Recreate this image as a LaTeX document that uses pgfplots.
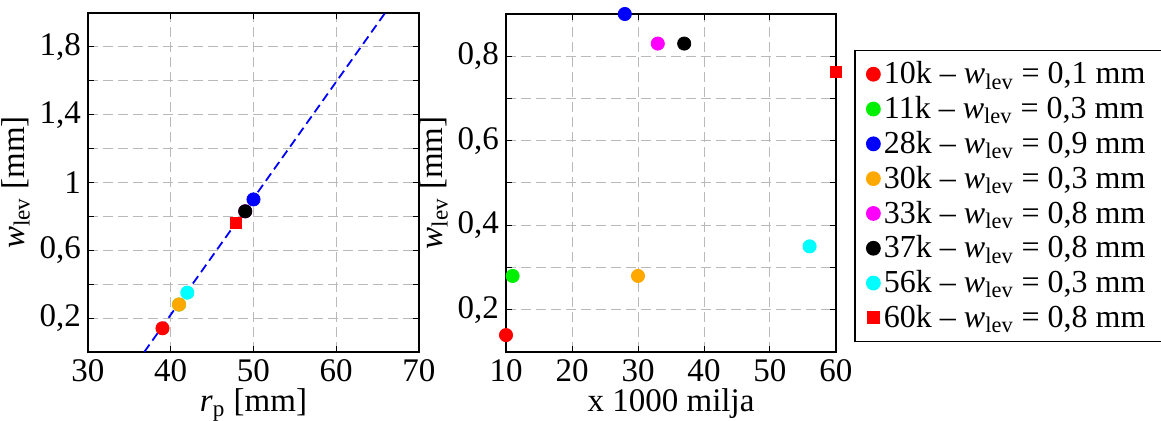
\documentclass[border=0pt]{standalone}
\usepackage{fontspec}
\setmainfont{Liberation Serif}
\usepackage{pgfplots}
\pgfplotsset{compat=1.18}
\definecolor{cred}{RGB}{255,0,0}
\definecolor{cgreen}{RGB}{0,240,0}
\definecolor{cblue}{RGB}{0,0,255}
\definecolor{corange}{RGB}{255,168,0}
\definecolor{cmagenta}{RGB}{255,0,255}
\definecolor{ccyan}{RGB}{0,255,255}
\definecolor{gridgray}{RGB}{185,185,185}
\newcommand{\wlev}{\textit{w}\textsubscript{lev}}
\pgfplotsset{
  mystyle/.style={
    scale only axis, clip=false,
    axis line style={line width=0.8pt},
    grid=both,
    grid style={gridgray, dash pattern=on 5pt off 2.5pt, line width=0.5pt},
    minor grid style={gridgray, dash pattern=on 5pt off 2.5pt, line width=0.5pt},
    major grid style={gridgray, dash pattern=on 5pt off 2.5pt, line width=0.5pt},
    tick align=inside, major tick length=3pt, minor tick length=3pt,
    every tick/.style={black, line width=0.5pt},
    ticklabel style={font=\fontsize{16.5}{19}\selectfont},
    label style={font=\fontsize{16.5}{19}\selectfont},
    xlabel style={inner ysep=1pt, yshift=1pt},
    ylabel style={yshift=-2pt},
    /pgf/number format/assume math mode=true,
    /pgf/number format/use comma,
    /pgf/number format/1000 sep={},
  },
  mk/.style={only marks, mark=*, mark size=3.3pt, color=#1},
  sq/.style={only marks, mark=square*, mark size=2.8pt, color=#1},
}
\begin{document}
\begin{tikzpicture}
\useasboundingbox (0,0) rectangle (580.5pt,210.5pt);
% left axis
\begin{axis}[mystyle,
  at={(44pt,34.5pt)}, anchor=south west,
  width=165.5pt, height=169.5pt,
  xmin=30, xmax=70, ymin=0, ymax=2,
  xtick={30,40,50,60,70},
  ytick={0.2,0.6,1,1.4,1.8},
  minor ytick={0.4,0.8,1.2,1.6},
  xlabel={\textit{r}\textsubscript{p} [mm]},
  ylabel={\wlev{} [mm]},
]
\addplot[cblue, line width=0.9pt, dash pattern=on 4.5pt off 2.5pt, mark=none] coordinates {(36.8,0) (65.9,2)};
\addplot[mk=cred] coordinates {(39,0.14)};
\addplot[mk=cgreen] coordinates {(41,0.28)};
\addplot[mk=cblue] coordinates {(50,0.9)};
\addplot[mk=corange] coordinates {(41,0.28)};
\addplot[mk=cmagenta] coordinates {(49,0.83)};
\addplot[mk=black] coordinates {(49,0.83)};
\addplot[mk=ccyan] coordinates {(42,0.35)};
\addplot[sq=cred] coordinates {(47.9,0.76)};
\end{axis}
% right axis
\begin{axis}[mystyle,
  at={(253pt,34.5pt)}, anchor=south west,
  width=165pt, height=169pt,
  xmin=10, xmax=60, ymin=0.1, ymax=0.9,
  xtick={10,20,30,40,50,60},
  ytick={0.2,0.4,0.6,0.8},
  minor ytick={0.3,0.5,0.7},
  xlabel={x 1000 milja},
  ylabel={\wlev{} [mm]},
  legend cell align=left,
  legend style={at={(1.0545,0.894)}, anchor=north west,
    draw=black, line width=0.8pt,
    font=\fontsize{16}{18}\selectfont,
    inner xsep=6pt, inner ysep=3.5pt,
    row sep=0.8pt,
    /tikz/every even column/.append style={column sep=2.5pt}},
]
\addplot[mk=cred] coordinates {(10,0.14)};
\addlegendentry{10k – \wlev{} = 0,1 mm}
\addplot[mk=cgreen] coordinates {(11,0.28)};
\addlegendentry{11k – \wlev{} = 0,3 mm}
\addplot[mk=cblue] coordinates {(28,0.9)};
\addlegendentry{28k – \wlev{} = 0,9 mm}
\addplot[mk=corange] coordinates {(30,0.28)};
\addlegendentry{30k – \wlev{} = 0,3 mm}
\addplot[mk=cmagenta] coordinates {(33,0.83)};
\addlegendentry{33k – \wlev{} = 0,8 mm}
\addplot[mk=black] coordinates {(37,0.83)};
\addlegendentry{37k – \wlev{} = 0,8 mm}
\addplot[mk=ccyan] coordinates {(56,0.35)};
\addlegendentry{56k – \wlev{} = 0,3 mm}
\addplot[sq=cred] coordinates {(60,0.763)};
\addlegendentry{60k – \wlev{} = 0,8 mm}
\end{axis}
\end{tikzpicture}
\end{document}
